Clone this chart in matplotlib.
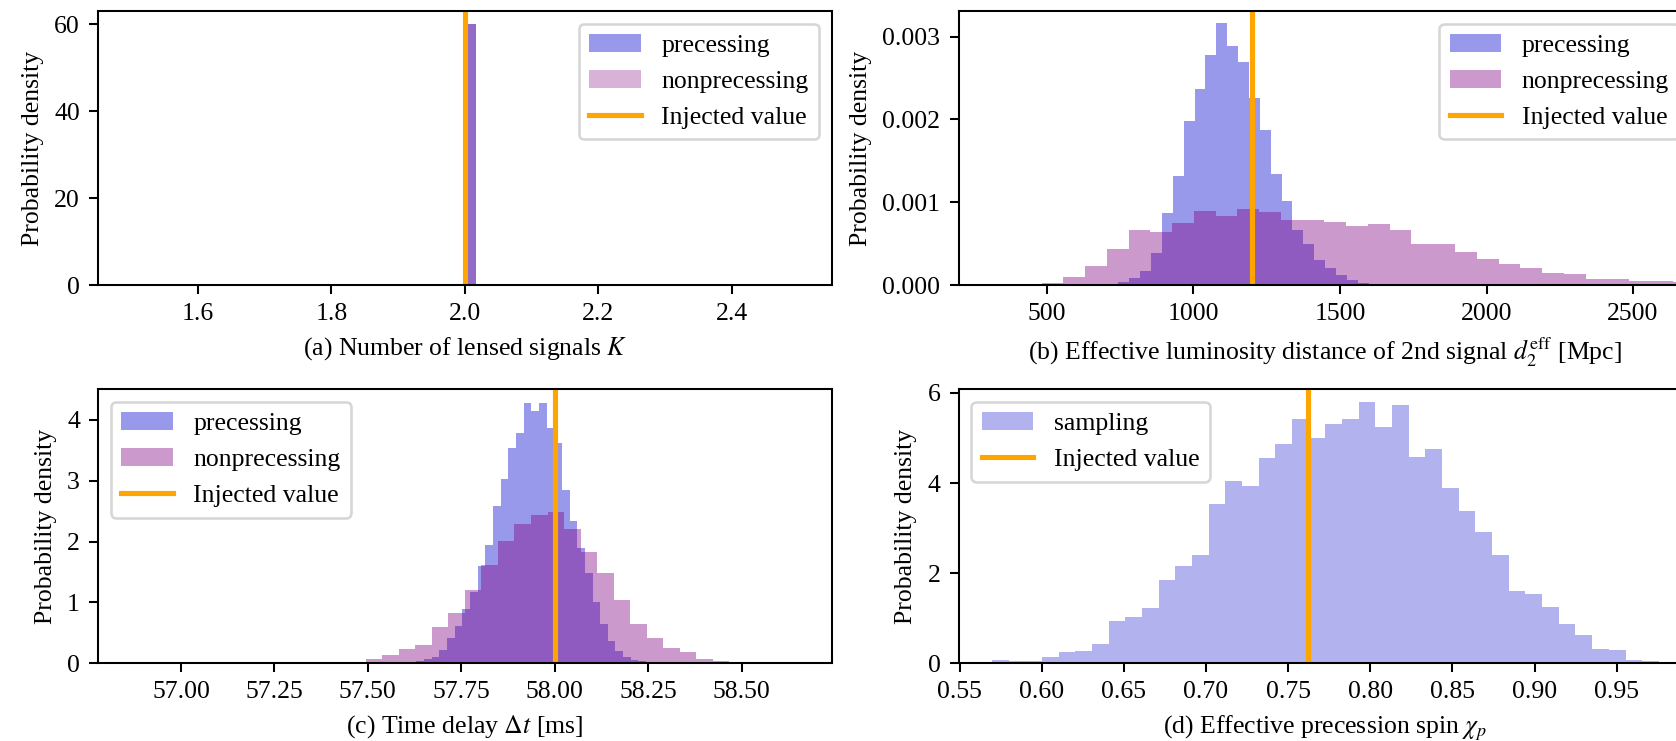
import numpy as np
import matplotlib
matplotlib.use("Agg")
import matplotlib.pyplot as plt

plt.rcParams["font.family"] = "serif"
plt.rcParams["font.serif"] = ["Liberation Serif", "DejaVu Serif"]
plt.rcParams["mathtext.fontset"] = "stix"

PREC_COLOR = "mediumblue"
NONPREC_COLOR = "purple"
INJ_COLOR = "orange"

# (a) number of lensed signals K (all posterior samples sit at K = 2)
k_precessing = [2.0]
k_nonprecessing = [2.0]
k_injected = 2.0

# (b) effective luminosity distance of the 2nd signal [Mpc], density per bin
dist_prec_first_edge = 743.7
dist_prec_bin_width = 37.12
dist_prec_density = np.array([
    0.04, 0.08, 0.17, 0.39, 0.875, 1.32, 1.98, 2.37, 2.78, 3.17, 2.89, 2.69,
    2.26, 1.875, 1.34, 1.02, 0.665, 0.49, 0.30, 0.20, 0.12, 0.06, 0.03]) * 1e-3
dist_nonprec_first_edge = 481.7
dist_nonprec_bin_width = 74.25
dist_nonprec_density = np.array([
    0.02, 0.097, 0.23, 0.44, 0.67, 0.645, 0.754, 0.895, 0.835, 0.92, 0.88,
    0.78, 0.78, 0.765, 0.71, 0.74, 0.66, 0.49, 0.49, 0.395, 0.315, 0.254,
    0.20, 0.14, 0.133, 0.069, 0.069, 0.048, 0.048, 0.033]) * 1e-3
dist_injected = 1200.0

# (c) time delay [ms], density per bin
dt_prec_first_edge = 57.630
dt_prec_bin_width = 0.02048
dt_prec_density = [
    0.03, 0.07, 0.10, 0.22, 0.42, 0.61, 0.90, 1.17, 1.60, 1.95, 2.58, 3.03,
    3.53, 3.78, 4.28, 4.15, 4.27, 3.87, 3.62, 2.84, 2.34, 1.90, 1.48, 1.00,
    0.65, 0.36, 0.20, 0.10, 0.06, 0.03]
dt_nonprec_first_edge = 57.4497
dt_nonprec_bin_width = 0.04425
dt_nonprec_density = [
    0.02, 0.07, 0.136, 0.24, 0.295, 0.59, 0.82, 1.20, 1.62, 2.01, 2.28, 2.44,
    2.49, 2.21, 1.83, 1.49, 1.04, 0.64, 0.42, 0.256, 0.185, 0.07, 0.04, 0.02]
dt_injected = 58.0

# (d) effective precession spin chi_p, density per bin
chip_first_edge = 0.5696
chip_bin_width = 0.010152
chip_density = [
    0.074, 0.044, 0.044, 0.14, 0.25, 0.27, 0.43, 0.945, 1.026, 1.225, 1.845,
    2.155, 2.40, 3.53, 4.04, 3.93, 4.55, 4.86, 5.43, 4.99, 5.30, 5.41, 5.79,
    5.24, 5.73, 4.57, 4.745, 3.90, 3.37, 2.91, 2.40, 1.60, 1.535, 1.25, 0.87,
    0.627, 0.317, 0.295, 0.074, 0.052]
chip_injected = 0.762

LEGEND_LABELS = ["precessing", "nonprecessing", "Injected value"]


def binned_hist(ax, first_edge, width, density, **kw):
    """Draw a pre-binned density histogram."""
    density = np.asarray(density, dtype=float)
    edges = first_edge + width * np.arange(len(density) + 1)
    return ax.hist(edges[:-1], bins=edges, weights=density, **kw)[2]


W, H = 1676, 741
DPI = 185.25
fig = plt.figure(figsize=(W / DPI, H / DPI), dpi=DPI)

aw, ah = 733.7 / W, 274.0 / H
ax_a = fig.add_axes([98 / W, 1 - 285 / H, aw, ah])
ax_b = fig.add_axes([958.5 / W, 1 - 285 / H, aw, ah])
ax_c = fig.add_axes([98 / W, 1 - 663.3 / H, aw, ah])
ax_d = fig.add_axes([958.5 / W, 1 - 663.3 / H, aw, ah])

# (a)
pa = ax_a.hist(k_precessing, bins=60, density=True, color=PREC_COLOR, alpha=0.4)[2]
na = ax_a.hist(k_nonprecessing, bins=60, density=True, color=NONPREC_COLOR, alpha=0.3)[2]
la = ax_a.axvline(k_injected, color=INJ_COLOR, lw=2)
ax_a.set_xlabel(r"(a) Number of lensed signals $K$")
ax_a.set_ylabel("Probability density")
ax_a.legend([pa, na, la], LEGEND_LABELS, loc="upper right")

# (b)
pb = binned_hist(ax_b, dist_prec_first_edge, dist_prec_bin_width, dist_prec_density,
                 color=PREC_COLOR, alpha=0.4)
nb = binned_hist(ax_b, dist_nonprec_first_edge, dist_nonprec_bin_width,
                 dist_nonprec_density, color=NONPREC_COLOR, alpha=0.4)
lb = ax_b.axvline(dist_injected, color=INJ_COLOR, lw=2)
ax_b.set_xlim(198, 2702)
ax_b.set_ylim(0, 0.00331)
ax_b.set_xlabel(r"(b) Effective luminosity distance of 2nd signal $d_2^{\rm eff}$ [Mpc]")
ax_b.set_ylabel("Probability density")
ax_b.legend([pb, nb, lb], LEGEND_LABELS, loc="upper right")

# (c)
pc = binned_hist(ax_c, dt_prec_first_edge, dt_prec_bin_width, dt_prec_density,
                 color=PREC_COLOR, alpha=0.4)
nc = binned_hist(ax_c, dt_nonprec_first_edge, dt_nonprec_bin_width, dt_nonprec_density,
                 color=NONPREC_COLOR, alpha=0.4)
lc = ax_c.axvline(dt_injected, color=INJ_COLOR, lw=2)
ax_c.set_xlim(56.778, 58.741)
ax_c.set_ylim(0, 4.5)
ax_c.set_xlabel(r"(c) Time delay $\Delta t$ [ms]")
ax_c.set_ylabel("Probability density")
ax_c.legend([pc, nc, lc], LEGEND_LABELS, loc="upper left")

# (d)
sd = binned_hist(ax_d, chip_first_edge, chip_bin_width, chip_density,
                 color=PREC_COLOR, alpha=0.3)
ld = ax_d.axvline(chip_injected, color=INJ_COLOR, lw=2)
ax_d.set_ylim(0, 6.08)
ax_d.set_xlabel(r"(d) Effective precession spin $\chi_p$")
ax_d.set_ylabel("Probability density")
ax_d.legend([sd, ld], ["sampling", "Injected value"], loc="upper left")

fig.savefig("out.png", dpi=DPI)
